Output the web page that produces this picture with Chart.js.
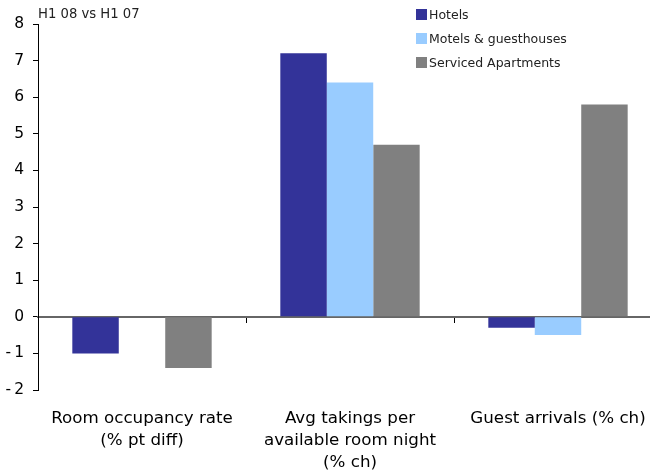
<!DOCTYPE html>
<html>
<head>
<meta charset="utf-8">
<script src="https://cdn.jsdelivr.net/npm/chart.js@4/dist/chart.umd.min.js"></script>
<style>
    html, body { margin: 0; padding: 0; background: #fff; overflow: hidden; }
    #wrap { position: relative; width: 662px; height: 470px; }
    #subtitle { position: absolute; left: 38px; top: 6px; font: 13.2px "DejaVu Sans", sans-serif; color: #222; }
    #legend { position: absolute; left: 416px; top: 6px; font: 12.5px "DejaVu Sans", sans-serif; color: #222; }
    #legend div { height: 24px; line-height: 18px; white-space: nowrap; }
    #legend span { display: inline-block; width: 11px; height: 11px; margin-right: 2px; vertical-align: -1px; }
</style>
</head>
<body>
<div id="wrap">
    <canvas id="chart1" width="662" height="470"></canvas>
    <div id="subtitle">H1 08 vs H1 07</div>
    <div id="legend"></div>
</div>
<script>
    const categories = [
        ['Room occupancy rate', '(% pt diff)'],
        ['Avg takings per', 'available room night', '(% ch)'],
        ['Guest arrivals (% ch)']
    ];
    const seriesNames = ['Hotels', 'Motels & guesthouses', 'Serviced Apartments'];
    const hotels = [-1.0, 7.2, -0.3];
    const motels = [null, 6.4, -0.5];
    const serviced = [-1.4, 4.7, 5.8];
    const yTicks = [-2, -1, 0, 1, 2, 3, 4, 5, 6, 7, 8];

    const colors = ['#333399', '#99ccff', '#808080'];
    const fontFamily = '"DejaVu Sans", sans-serif';

    const legendBox = document.getElementById('legend');
    for (var i = 0; i < seriesNames.length; i++) {
        legendBox.innerHTML += '<div><span style="background:' + colors[i] + '"></span>' +
            seriesNames[i].replace('&', '&amp;') + '</div>';
    }

    new Chart(document.getElementById('chart1'), {
        type: 'bar',
        data: {
            labels: categories,
            datasets: [hotels, motels, serviced].map(function (vals, i) {
                return {
                    label: seriesNames[i],
                    data: vals,
                    backgroundColor: colors[i],
                    borderWidth: 0,
                    categoryPercentage: 0.67,
                    barPercentage: 1.0,
                    xAxisID: 'x'
                };
            })
        },
        options: {
            responsive: false,
            animation: false,
            layout: { padding: { top: 24, right: 0, left: 0, bottom: 0 } },
            plugins: {
                legend: { display: false },
                tooltip: { enabled: false }
            },
            scales: {
                x: {
                    position: 'bottom',
                    grid: { display: false },
                    border: { display: false },
                    ticks: {
                        color: '#000',
                        font: { family: fontFamily, size: 16.7, lineHeight: 1.32 },
                        maxRotation: 0,
                        padding: 10
                    },
                    afterFit: function (scale) { scale.height = 80; }
                },
                x2: {
                    type: 'category',
                    labels: categories,
                    position: { y: 0 },
                    grid: {
                        drawOnChartArea: false,
                        drawTicks: true,
                        tickLength: 5,
                        offset: true,
                        color: '#000'
                    },
                    border: { display: true, color: '#666', width: 2 },
                    ticks: { display: false }
                },
                y: {
                    min: -2,
                    max: 8,
                    afterBuildTicks: function (scale) {
                        scale.ticks = yTicks.map(function (v) { return { value: v }; });
                    },
                    grid: {
                        drawOnChartArea: false,
                        drawTicks: true,
                        tickLength: 5,
                        color: '#000'
                    },
                    border: { display: true, color: '#000', width: 1 },
                    ticks: {
                        color: '#000',
                        padding: 9,
                        font: { family: fontFamily, size: 15.5 },
                        callback: function (v) { return v < 0 ? '-\u2009' + Math.abs(v) : String(v); }
                    },
                    afterFit: function (scale) { scale.width = 38; }
                }
            }
        }
    });
</script>
</body>
</html>
